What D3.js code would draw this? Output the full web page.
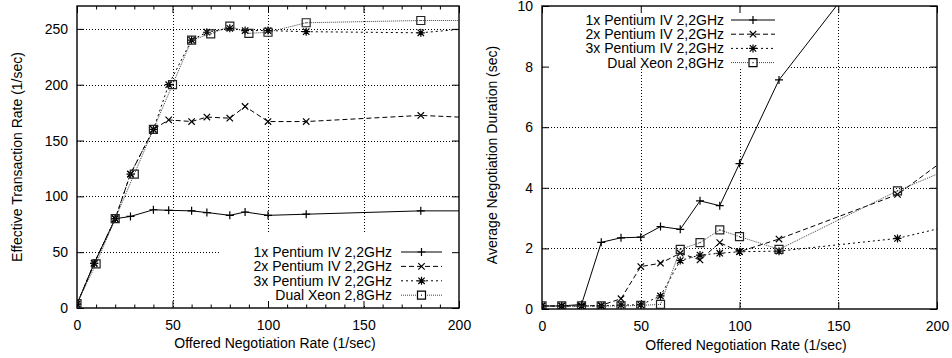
<!DOCTYPE html>
<html>
<head>
<meta charset="utf-8">
<script src="https://cdn.jsdelivr.net/npm/d3@7"></script>
<style>
  body { margin: 0; background: #fff; }
  svg { font-family: "Liberation Sans", Arial, sans-serif; }
</style>
</head>
<body>
<svg id="chart" width="952" height="358"></svg>
<script>
// offered negotiation rate (1/sec)
var rateThroughput = [0, 9, 20, 28, 40, 48, 60, 68, 80, 88, 100, 120, 180, 220];
var rateThroughputXeon = [0, 10, 20, 30, 40, 50, 60, 70, 80, 90, 100, 120, 180, 220];
var rateDuration = [0, 10, 20, 30, 40, 50, 60, 70, 80, 90, 100, 120, 180, 220];

var seriesNames = ["1x Pentium IV 2,2GHz", "2x Pentium IV 2,2GHz", "3x Pentium IV 2,2GHz", "Dual Xeon 2,8GHz"];

// effective transaction rate (1/sec)
var throughput1x = [3.5, 40, 80, 82, 88, 87.5, 87, 85.5, 83, 86, 83, 84, 87, 87];
var throughput2x = [3.5, 40, 80, 120, 160, 168.5, 167, 171, 170, 180.5, 167, 167, 172.5, 169.5];
var throughput3x = [3.5, 40, 80, 120, 160, 200, 240, 247, 250.5, 248.5, 248.5, 247.5, 246.5, 252.5];
var throughputXeon = [4, 39.5, 80, 120, 160, 200, 240, 245.5, 252.5, 246, 247, 255.5, 257.5, 257.5];

// average negotiation duration (sec)
var duration1x = [0.1, 0.1, 0.15, 2.2, 2.35, 2.37, 2.72, 2.63, 3.57, 3.41, 4.8, 7.56, 12.6, 16];
var duration2x = [0.1, 0.1, 0.1, 0.12, 0.34, 1.4, 1.51, 1.84, 1.62, 2.19, 1.89, 2.31, 3.78, 5.7];
var duration3x = [0.1, 0.1, 0.1, 0.1, 0.13, 0.14, 0.43, 1.6, 1.78, 1.84, 1.89, 1.91, 2.33, 2.95];
var durationXeon = [0.1, 0.1, 0.1, 0.1, 0.1, 0.12, 0.15, 1.97, 2.19, 2.61, 2.39, 1.97, 3.9, 5.0];

var xTicks = [0, 50, 100, 150, 200];
var throughputTicks = [0, 50, 100, 150, 200, 250];
var durationTicks = [0, 2, 4, 6, 8, 10];

// line look per series (gnuplot lt 1..4, pt 1..4)
var looks = [
  { dash: null, mark: "plus", color: "#000" },
  { dash: "5,3", mark: "cross", color: "#000" },
  { dash: "2,3", mark: "star", color: "#000" },
  { dash: "1,1", mark: "box", color: "#444" }
];

function markPath(type, s) {
  var c = s * 0.8;
  var plus = "M" + (-s) + ",0H" + s + "M0," + (-s) + "V" + s;
  var cross = "M" + (-c) + "," + (-c) + "L" + c + "," + c + "M" + (-c) + "," + c + "L" + c + "," + (-c);
  if (type == "plus") return plus;
  if (type == "cross") return cross;
  if (type == "star") return plus + cross;
  return "M" + (-s) + "," + (-s) + "H" + s + "V" + s + "H" + (-s) + "Z M-0.5,0H0.5";
}

var svg = d3.select("#chart");

function drawPanel(p) {
  var g = svg.append("g");
  var x = d3.scaleLinear().domain([0, 200]).range([p.left, p.right]);
  var y = d3.scaleLinear().domain(p.yDomain).range([p.bottom, p.top]);

  var clipId = "clip" + p.id;
  g.append("clipPath").attr("id", clipId)
    .append("rect")
    .attr("x", p.left).attr("y", p.top)
    .attr("width", p.right - p.left).attr("height", p.bottom - p.top);

  // grid
  var grid = g.append("g").attr("stroke", "#000").attr("stroke-width", 1).attr("stroke-dasharray", "1,2");
  grid.selectAll(".gx").data(xTicks.slice(1, -1)).join("line")
    .attr("x1", function(d) { return Math.round(x(d)) + 0.5; })
    .attr("x2", function(d) { return Math.round(x(d)) + 0.5; })
    .attr("y1", p.top).attr("y2", p.bottom);
  grid.selectAll(".gy").data(p.yTicks.filter(function(d) { return d > p.yDomain[0] && d < p.yDomain[1]; })).join("line")
    .attr("x1", p.left).attr("x2", p.right)
    .attr("y1", function(d) { return Math.round(y(d)) + 0.5; })
    .attr("y2", function(d) { return Math.round(y(d)) + 0.5; });

  // key area blanks the grid behind it
  g.append("rect")
    .attr("x", p.keyBox[0]).attr("y", p.keyBox[1])
    .attr("width", p.keyBox[2]).attr("height", p.keyBox[3])
    .attr("fill", "#fff");

  // axes (ticks point inward, mirrored on top and right)
  var fontSize = 14;
  g.append("g").attr("transform", "translate(0," + p.bottom + ")")
    .call(d3.axisBottom(x).tickValues(xTicks).tickSizeInner(-7).tickSizeOuter(0).tickPadding(12));
  g.append("g").attr("transform", "translate(0," + p.top + ")")
    .call(d3.axisTop(x).tickValues(xTicks).tickSizeInner(-7).tickSizeOuter(0).tickFormat(""));
  g.append("g").attr("transform", "translate(" + p.left + ",0)")
    .call(d3.axisLeft(y).tickValues(p.yTicks).tickSizeInner(-7).tickSizeOuter(0).tickPadding(9));
  g.append("g").attr("transform", "translate(" + p.right + ",0)")
    .call(d3.axisRight(y).tickValues(p.yTicks).tickSizeInner(-7).tickSizeOuter(0).tickFormat(""));
  if (p.minor) {
    var minor = d3.range(0, 201, 10).filter(function(d) { return d % 50 != 0; });
    g.append("g").attr("transform", "translate(0," + p.bottom + ")")
      .call(d3.axisBottom(x).tickValues(minor).tickSizeInner(-3.5).tickSizeOuter(0).tickFormat(""));
    g.append("g").attr("transform", "translate(0," + p.top + ")")
      .call(d3.axisTop(x).tickValues(minor).tickSizeInner(-3.5).tickSizeOuter(0).tickFormat(""));
  }
  g.selectAll(".domain").remove();
  g.selectAll(".tick text").attr("font-size", fontSize).attr("font-family", null).attr("fill", "#000");
  g.selectAll(".tick line").attr("stroke", "#000");

  // border
  g.append("rect")
    .attr("x", p.left).attr("y", p.top)
    .attr("width", p.right - p.left).attr("height", p.bottom - p.top)
    .attr("fill", "none").attr("stroke", "#000").attr("stroke-width", 1.4);

  // axis titles
  g.append("text")
    .attr("x", p.xTitlePos[0]).attr("y", p.xTitlePos[1])
    .attr("text-anchor", "middle").attr("font-size", fontSize)
    .text("Offered Negotiation Rate (1/sec)");
  g.append("text")
    .attr("transform", "translate(" + p.yTitlePos[0] + "," + p.yTitlePos[1] + ") rotate(-90)")
    .attr("text-anchor", "middle").attr("dy", "0.35em").attr("font-size", fontSize)
    .text(p.yTitle);

  // data
  var plot = g.append("g").attr("clip-path", "url(#" + clipId + ")");
  var line = d3.line().x(function(d) { return x(d[0]); }).y(function(d) { return y(d[1]); });
  p.series.forEach(function(s, i) {
    var look = looks[i];
    var pts = d3.zip(s.xs, s.ys);
    plot.append("path").datum(pts)
      .attr("d", line)
      .attr("fill", "none").attr("stroke", look.color).attr("stroke-width", 1)
      .attr("stroke-dasharray", look.dash);
    plot.selectAll(".m" + i).data(pts).join("path")
      .attr("transform", function(d) { return "translate(" + x(d[0]) + "," + y(d[1]) + ")"; })
      .attr("d", markPath(look.mark, 4))
      .attr("fill", "none").attr("stroke", i == 3 ? "#222" : "#000").attr("stroke-width", 1.2);
  });

  // key
  var key = g.append("g");
  seriesNames.forEach(function(name, i) {
    var ky = p.keyRows[0] + i * p.keyRows[1];
    var look = looks[i];
    key.append("text")
      .attr("x", p.keyText).attr("y", ky).attr("dy", "0.35em")
      .attr("text-anchor", "end").attr("font-size", fontSize)
      .text(name);
    key.append("line")
      .attr("x1", p.keyLine[0]).attr("x2", p.keyLine[1])
      .attr("y1", ky).attr("y2", ky)
      .attr("stroke", look.color).attr("stroke-width", 1)
      .attr("stroke-dasharray", look.dash);
    key.append("path")
      .attr("transform", "translate(" + (p.keyLine[0] + p.keyLine[1]) / 2 + "," + ky + ")")
      .attr("d", markPath(look.mark, 4))
      .attr("fill", "#fff").attr("stroke", "#000").attr("stroke-width", 1.2);
  });
}

drawPanel({
  id: "a",
  left: 77, right: 459, top: 6, bottom: 308,
  yDomain: [0, 270.5],
  yTicks: throughputTicks,
  minor: true,
  yTitle: "Effective Transaction Rate (1/sec)",
  xTitlePos: [275, 348],
  yTitlePos: [17, 157],
  keyBox: [220, 234, 238, 70],
  keyText: 392, keyLine: [401, 442], keyRows: [252, 14.4],
  series: [
    { xs: rateThroughput, ys: throughput1x },
    { xs: rateThroughput, ys: throughput2x },
    { xs: rateThroughput, ys: throughput3x },
    { xs: rateThroughputXeon, ys: throughputXeon }
  ]
});

drawPanel({
  id: "b",
  left: 542, right: 937, top: 6, bottom: 309,
  yDomain: [0, 10],
  yTicks: durationTicks,
  minor: false,
  yTitle: "Average Negotiation Duration (sec)",
  xTitlePos: [746, 350],
  yTitlePos: [492, 155],
  keyBox: [543, 7, 245, 62],
  keyText: 724, keyLine: [731, 775], keyRows: [20, 14.2],
  series: [
    { xs: rateDuration, ys: duration1x },
    { xs: rateDuration, ys: duration2x },
    { xs: rateDuration, ys: duration3x },
    { xs: rateDuration, ys: durationXeon }
  ]
});
</script>
</body>
</html>
